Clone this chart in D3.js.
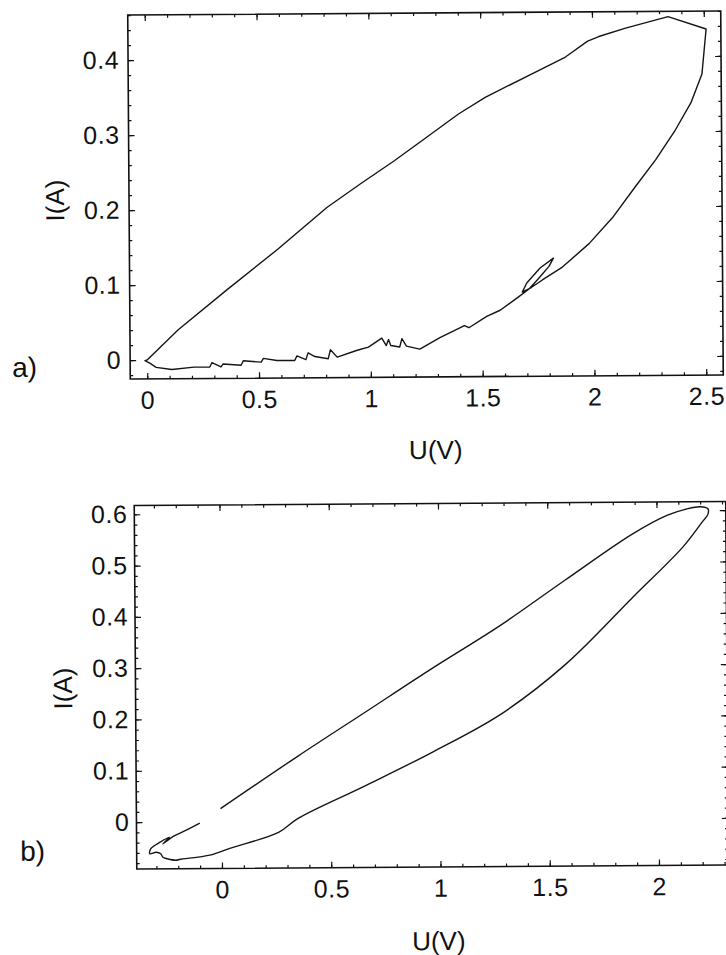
<!DOCTYPE html>
<html>
<head>
<meta charset="utf-8">
<title>I(U) loops a) and b)</title>
<script src="https://cdn.jsdelivr.net/npm/d3@7"></script>
<style>
  body { margin: 0; background: #fff; }
  svg { display: block; }
  .tick text { font-family: "Liberation Sans", Arial, sans-serif; font-size: 25px; fill: #111; letter-spacing: 0.5px; }
  .tick line { stroke: #111; stroke-width: 1.2; }
  .frame { fill: none; stroke: #111; stroke-width: 1.6; }
  .trace { fill: none; stroke: #151515; stroke-width: 1.4; stroke-linejoin: round; }
  .title { font-family: "Liberation Sans", Arial, sans-serif; font-size: 26px; fill: #111; }
  .tag { font-family: "Liberation Sans", Arial, sans-serif; font-size: 28px; fill: #111; }
</style>
</head>
<body>
<script>
// panel a)  -- axis ranges, ticks, measured loop [U(V), I(A)]
const uRangeA = [-0.076, 2.576];
const iRangeA = [-0.0253, 0.46];
const uTicksA = [0, 0.5, 1, 1.5, 2, 2.5];
const iTicksA = [0, 0.1, 0.2, 0.3, 0.4];
const loopA = [
  [0.00, 0.000], [0.14, 0.040], [0.36, 0.093], [0.59, 0.147], [0.81, 0.202],
  [0.96, 0.233], [1.11, 0.263], [1.26, 0.295], [1.40, 0.325], [1.52, 0.347],
  [1.73, 0.378], [1.88, 0.400], [1.98, 0.421], [2.03, 0.427], [2.15, 0.438],
  [2.34, 0.453], [2.51, 0.436], [2.49, 0.376], [2.44, 0.338], [2.37, 0.302],
  [2.28, 0.262], [2.19, 0.227], [2.09, 0.187], [1.98, 0.151], [1.86, 0.120],
  [1.77, 0.103], [1.72, 0.093],
  // small side loop
  [1.68, 0.087], [1.70, 0.099], [1.76, 0.119], [1.82, 0.132], [1.80, 0.121],
  [1.75, 0.104], [1.71, 0.091],
  [1.66, 0.080], [1.58, 0.063], [1.52, 0.055], [1.44, 0.040], [1.42, 0.043],
  [1.31, 0.027], [1.22, 0.012], [1.16, 0.016], [1.14, 0.026], [1.13, 0.015],
  [1.09, 0.017], [1.08, 0.025], [1.07, 0.017], [1.05, 0.027], [0.99, 0.015],
  [0.94, 0.011], [0.85, 0.002], [0.82, 0.012], [0.81, 0.000], [0.75, 0.003],
  [0.72, 0.008], [0.71, -0.001], [0.67, 0.004], [0.66, -0.002], [0.58, -0.002],
  [0.52, 0.001], [0.51, -0.004], [0.43, -0.002], [0.42, -0.008], [0.34, -0.006],
  [0.33, -0.010], [0.29, -0.004], [0.28, -0.010], [0.21, -0.010], [0.11, -0.013],
  [0.04, -0.010], [0.01, -0.004], [-0.01, -0.001], [0.00, 0.000]
];

// panel b)
const uRangeB = [-0.39, 2.317];
const iRangeB = [-0.0916, 0.617];
const uTicksB = [0, 0.5, 1, 1.5, 2];
const iTicksB = [0, 0.1, 0.2, 0.3, 0.4, 0.5, 0.6];
const loopB = [
  [-0.005, 0.025], [0.35, 0.126], [0.66, 0.211], [0.97, 0.296], [1.28, 0.378],
  [1.58, 0.466], [1.89, 0.555], [2.05, 0.591], [2.14, 0.603], [2.20, 0.607],
  [2.235, 0.603], [2.235, 0.592], [2.21, 0.578], [2.12, 0.529], [1.89, 0.432],
  [1.58, 0.302], [1.28, 0.205], [0.97, 0.133], [0.66, 0.068], [0.35, 0.005],
  [0.26, -0.022], [0.04, -0.052], [-0.05, -0.065], [-0.125, -0.070], [-0.19, -0.073],
  [-0.21, -0.075], [-0.25, -0.072], [-0.27, -0.069], [-0.28, -0.062], [-0.30, -0.059],
  [-0.33, -0.062], [-0.325, -0.052], [-0.28, -0.039], [-0.24, -0.030], [-0.27, -0.043],
  [-0.22, -0.028], [-0.16, -0.016], [-0.10, -0.003]
];

const svg = d3.select("body").append("svg")
  .attr("width", 726)
  .attr("height", 955);

function panel(p) {
  // the scanned page is turned a hair counter-clockwise
  const g = svg.append("g")
    .attr("transform", `rotate(-0.4, ${(p.left + p.right) / 2}, ${(p.top + p.bottom) / 2})`);

  const x = d3.scaleLinear().domain(p.uRange).range([p.left, p.right]);
  const y = d3.scaleLinear().domain(p.iRange).range([p.bottom, p.top]);
  const noDomain = s => s.select(".domain").remove();

  // minor ticks all round
  const uMinor = d3.range(Math.ceil(p.uRange[0] * 10), Math.floor(p.uRange[1] * 10) + 1).map(d => d / 10);
  const iMinor = d3.range(Math.ceil(p.iRange[0] * 50), Math.floor(p.iRange[1] * 50) + 1).map(d => d / 50);
  g.append("g").attr("transform", `translate(0,${p.bottom})`)
    .call(d3.axisBottom(x).tickValues(uMinor).tickSize(-3).tickFormat("")).call(noDomain);
  g.append("g").attr("transform", `translate(0,${p.top})`)
    .call(d3.axisTop(x).tickValues(uMinor).tickSize(-3).tickFormat("")).call(noDomain);
  g.append("g").attr("transform", `translate(${p.left},0)`)
    .call(d3.axisLeft(y).tickValues(iMinor).tickSize(-3).tickFormat("")).call(noDomain);
  g.append("g").attr("transform", `translate(${p.right},0)`)
    .call(d3.axisRight(y).tickValues(iMinor).tickSize(-3).tickFormat("")).call(noDomain);

  // major ticks + labels
  g.append("g").attr("transform", `translate(0,${p.bottom})`)
    .call(d3.axisBottom(x).tickValues(p.uTicks).tickSize(-6).tickPadding(12).tickFormat(d3.format("")))
    .call(noDomain);
  g.append("g").attr("transform", `translate(0,${p.top})`)
    .call(d3.axisTop(x).tickValues(p.uTicks).tickSize(-6).tickFormat("")).call(noDomain);
  g.append("g").attr("transform", `translate(${p.left},0)`)
    .call(d3.axisLeft(y).tickValues(p.iTicks).tickSize(-6).tickPadding(p.yPad).tickFormat(d3.format("")))
    .call(noDomain);
  g.append("g").attr("transform", `translate(${p.right},0)`)
    .call(d3.axisRight(y).tickValues(p.iTicks).tickSize(-6).tickFormat("")).call(noDomain);

  g.append("rect").attr("class", "frame")
    .attr("x", p.left).attr("y", p.top)
    .attr("width", p.right - p.left).attr("height", p.bottom - p.top);

  const line = d3.line().x(d => x(d[0])).y(d => y(d[1])).curve(p.curve);
  g.append("path").attr("class", "trace").attr("d", line(p.data));

  g.append("text").attr("class", "title")
    .attr("transform", `translate(${p.iTitle[0]},${p.iTitle[1]}) rotate(-90)`)
    .attr("text-anchor", "middle").text("I(A)");
  g.append("text").attr("class", "title")
    .attr("x", p.uTitle[0]).attr("y", p.uTitle[1])
    .attr("text-anchor", "middle").text("U(V)");
  g.append("text").attr("class", "tag")
    .attr("x", p.tagPos[0]).attr("y", p.tagPos[1]).text(p.tag);
}

panel({
  left: 129, right: 722, top: 13, bottom: 377,
  uRange: uRangeA, iRange: iRangeA, uTicks: uTicksA, iTicks: iTicksA,
  data: loopA, curve: d3.curveLinear, yPad: 9,
  iTitle: [64, 198], uTitle: [434, 459], tag: "a)", tagPos: [11, 374]
});

panel({
  left: 135.5, right: 727, top: 503.5, bottom: 867,
  uRange: uRangeB, iRange: iRangeB, uTicks: uTicksB, iTicks: iTicksB,
  data: loopB, curve: d3.curveCatmullRom.alpha(0.5), yPad: 7,
  iTitle: [72, 686], uTitle: [437, 950], tag: "b)", tagPos: [19, 858]
});
</script>
</body>
</html>
